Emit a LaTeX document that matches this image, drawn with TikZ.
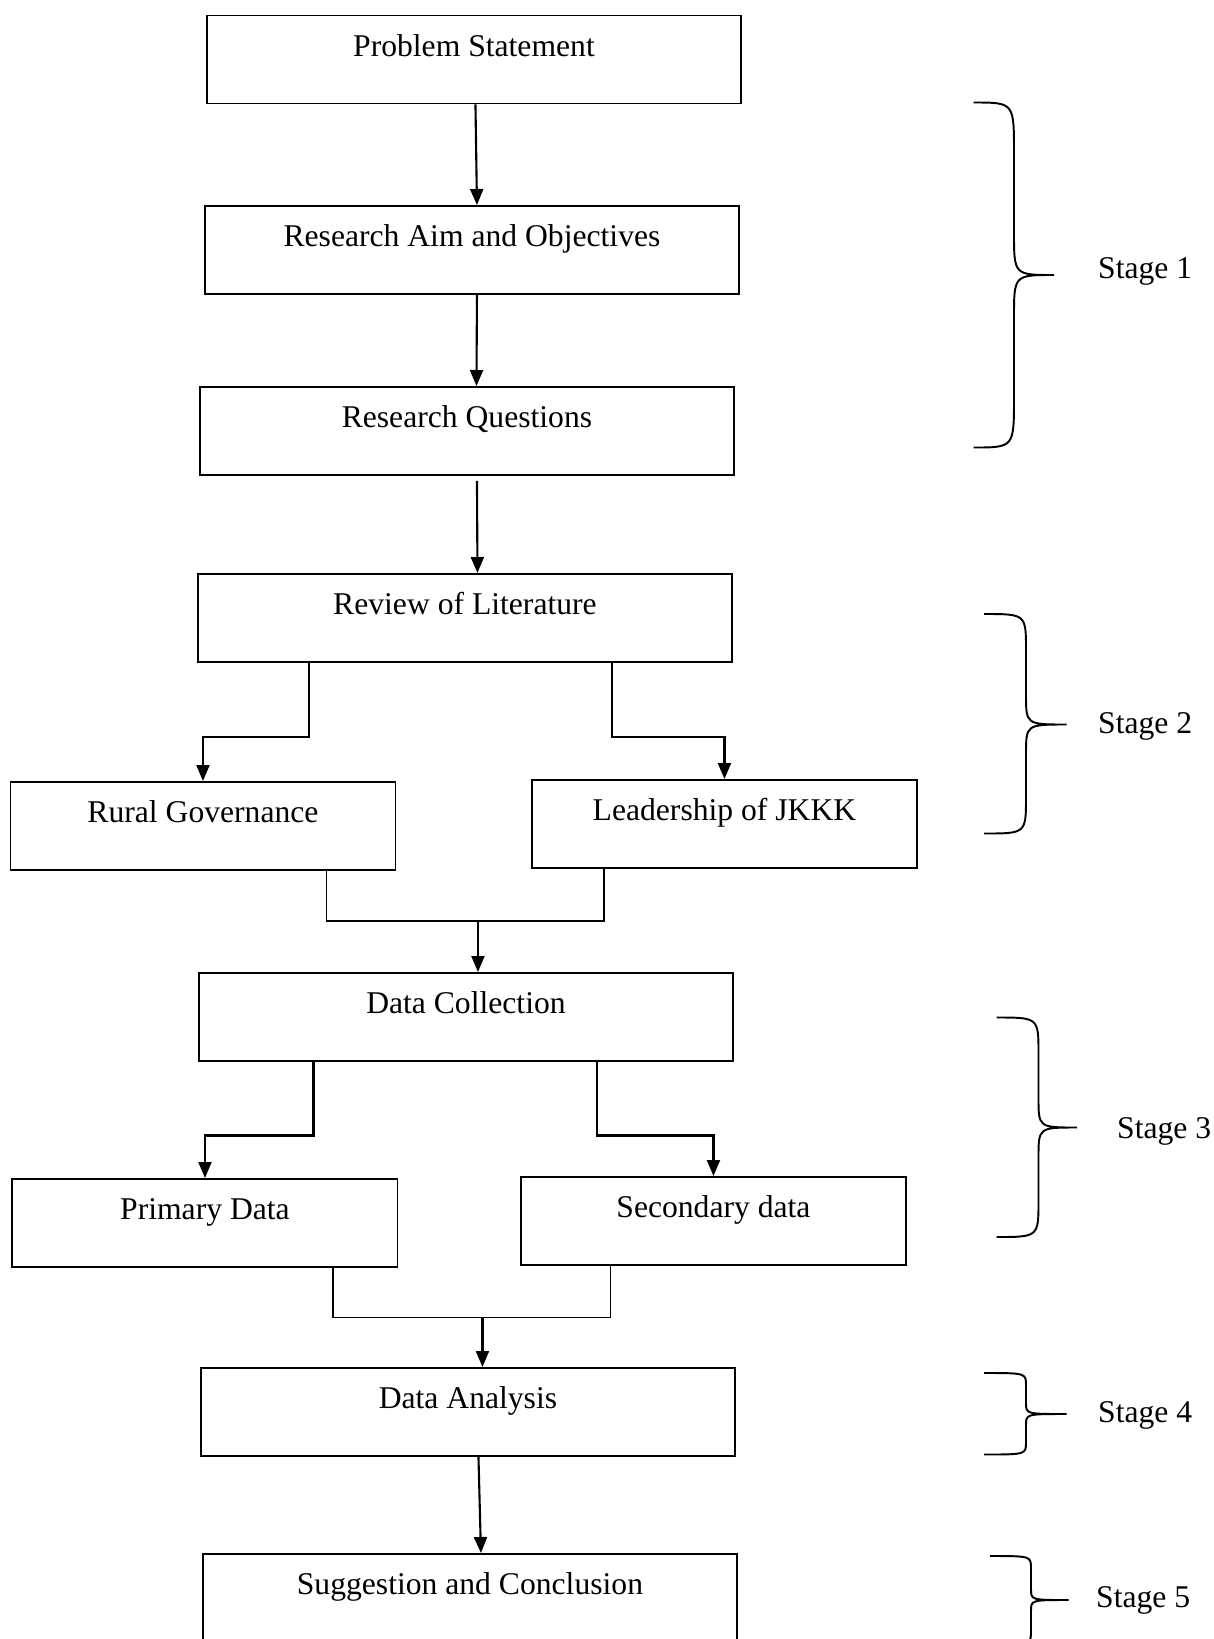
\documentclass[tikz,border=0pt]{standalone}
\usepackage{fontspec}
\setmainfont{Liberation Serif}
\usetikzlibrary{arrows.meta}
% left x, spine x, tip x, top y, tip y, bottom y, end curl, tip curl
\newcommand{\stagebrace}[8]{%
  \draw[brace] (#1,#4) .. controls (#2,#4) .. (#2,#4-#7) -- (#2,#5+#8)
    .. controls (#2,#5) .. (#3,#5) .. controls (#2,#5) .. (#2,#5-#8)
    -- (#2,#6+#7) .. controls (#2,#6) .. (#1,#6);}

\begin{document}
\begin{tikzpicture}[
    box/.style = {draw, line width=1.1pt, anchor=north west, inner ysep=0pt,
                  text height=0.82cm, text depth=0.94cm,
                  font=\fontsize{18}{22}\selectfont},
    wide/.style = {box, minimum width=10.68cm},
    half/.style = {box, minimum width=7.70cm},
    arr/.style = {line width=1.2pt, -{Triangle[length=0.32cm,width=0.26cm]}},
    link/.style = {line width=1.1pt},
    brace/.style = {line width=1.1pt},
    stage/.style = {anchor=west, font=\fontsize{18}{22}\selectfont}
  ]
    \useasboundingbox (0,0) rectangle (24.28,-32.78);

    %Boxes
    \node[wide] (Problem)    at (4.12,-0.29)  {Problem Statement};
    \node[wide] (AimObj)     at (4.08,-4.10)  {Research Aim and Objectives};
    \node[wide] (Questions)  at (3.98,-7.72)  {Research Questions};
    \node[wide] (Literature) at (3.94,-11.46) {Review of Literature};

    \node[half] (Rural)      at (0.19,-15.62) {Rural Governance};
    \node[half] (Leadership) at (10.62,-15.58) {Leadership of JKKK};

    \node[wide] (Collection) at (3.96,-19.44) {Data Collection};

    \node[half] (Primary)    at (0.23,-23.56) {Primary Data};
    \node[half] (Secondary)  at (10.40,-23.52) {Secondary data};

    \node[wide] (Analysis)   at (4.00,-27.34) {Data Analysis};
    \node[wide] (Conclusion) at (4.04,-31.06) {Suggestion and Conclusion};

    %Joins
    \coordinate (Join1) at ([xshift=0.24cm, yshift=1.02cm]Collection.north);
    \coordinate (Join2) at ([xshift=0.29cm, yshift=0.99cm]Analysis.north);

    %Arrows
    \draw[arr] ([xshift=0.03cm]Problem.south) -- ([xshift=0.10cm]AimObj.north);
    \draw[arr] ([xshift=0.10cm]AimObj.south) -- ([xshift=0.19cm]Questions.north);
    \draw[arr] ([xshift=0.20cm, yshift=-0.10cm]Questions.south) -- ([xshift=0.25cm]Literature.north);

    \draw[arr] ([xshift=-3.12cm]Literature.south) -- ++(0,-1.48) -| (Rural.north);
    \draw[arr] ([xshift=2.94cm]Literature.south) -- ++(0,-1.48) -| (Leadership.north);

    \draw[link] ([xshift=2.47cm]Rural.south) |- (Join1);
    \draw[link] ([xshift=-2.41cm]Leadership.south) |- (Join1);
    \draw[arr] (Join1) -- (Join1 |- Collection.north);

    \draw[arr] ([xshift=-3.05cm]Collection.south) -- ++(0,-1.47) -| (Primary.north);
    \draw[arr] ([xshift=2.62cm]Collection.south) -- ++(0,-1.47) -| (Secondary.north);

    \draw[link] ([xshift=2.56cm]Primary.south) |- (Join2);
    \draw[link] ([xshift=-2.06cm]Secondary.south) |- (Join2);
    \draw[arr] (Join2) -- (Join2 |- Analysis.north);

    \draw[arr] ([xshift=0.21cm]Analysis.south) -- ([xshift=0.22cm]Conclusion.north);

    %-------------------------------------------
    %Stages

    \stagebrace{19.47}{20.28}{21.08}{-2.05}{-5.50}{-8.95}{1.00}{0.85}
    \stagebrace{19.68}{20.52}{21.33}{-12.28}{-14.49}{-16.67}{0.73}{0.60}
    \stagebrace{19.93}{20.77}{21.54}{-20.35}{-22.55}{-24.74}{0.73}{0.60}
    \stagebrace{19.68}{20.52}{21.33}{-27.46}{-28.28}{-29.09}{0.25}{0.22}
    \stagebrace{19.80}{20.62}{21.37}{-31.12}{-32.00}{-32.88}{0.25}{0.22}

    \node[stage] (Stage1) at (21.84,-5.42)  {Stage 1};
    \node[stage] (Stage2) at (21.84,-14.53) {Stage 2};
    \node[stage] (Stage3) at (22.22,-22.63) {Stage 3};
    \node[stage] (Stage4) at (21.84,-28.30) {Stage 4};
    \node[stage] (Stage5) at (21.80,-32.00) {Stage 5};

\end{tikzpicture}
\end{document}
